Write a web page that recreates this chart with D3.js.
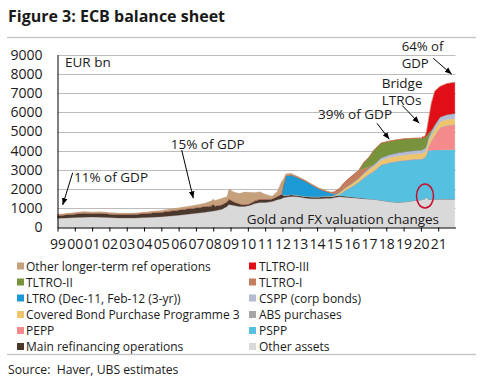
<!DOCTYPE html>
<html><head><meta charset="utf-8">
<script src="https://cdn.jsdelivr.net/npm/d3@7"></script>
<style>
body{margin:0;background:#fff}
svg{display:block}
text{font-family:"Open Sans",sans-serif;fill:#1a1a1a}
</style>
</head><body>
<svg id="c" width="480" height="385"></svg>
<script>
// ---- data (EUR bn) ----
const dates=[1999.0,1999.5,2000.0,2000.5,2001.0,2001.5,2002.0,2002.5,2003.0,2003.5,2004.0,2004.5,2005.0,2005.5,2006.0,2006.5,2007.0,2007.5,2007.9,2008.0,2008.1,2008.5,2008.8,2008.9,2009.2,2009.5,2009.8,2010.1,2010.4,2010.7,2011.0,2011.4,2011.7,2011.95,2012.05,2012.2,2012.5,2012.9,2013.3,2013.7,2014.1,2014.5,2014.8,2015.0,2015.3,2015.6,2016.0,2016.4,2016.7,2017.0,2017.3,2017.7,2018.2,2018.7,2019.2,2019.7,2020.05,2020.1,2020.17,2020.25,2020.33,2020.42,2020.6,2020.8,2021.1,2021.5,2021.96];
const otherAssets=[480,500,520,540,550,540,520,500,490,500,520,540,560,600,640,690,740,790,840,860,870,950,1100,1200,1150,1100,1100,1150,1250,1300,1300,1350,1450,1500,1550,1580,1620,1600,1530,1500,1500,1520,1520,1560,1600,1580,1550,1520,1500,1480,1470,1420,1350,1310,1350,1420,1450,1470,1490,1500,1640,1480,1460,1470,1480,1480,1470];
const mro=[160,180,200,230,200,220,200,200,200,210,220,240,250,270,290,300,300,320,300,370,260,250,250,300,200,150,100,100,150,180,180,150,180,250,150,100,100,80,100,100,100,120,100,80,60,50,40,30,20,10,5,0,0,0,0,0,0,0,0,0,0,0,0,0,0,0,0];
const otherLTRO=[50,50,60,60,60,60,60,50,50,50,60,70,80,90,100,110,130,150,250,250,270,320,270,500,500,520,650,580,420,380,250,130,250,650,300,100,80,60,50,50,50,40,20,10,10,0,0,0,0,0,0,0,0,0,0,0,0,0,0,0,0,0,0,0,0,0,0];
const ltro3y=[0,0,0,0,0,0,0,0,0,0,0,0,0,0,0,0,0,0,0,0,0,0,0,0,0,0,0,0,0,0,0,0,0,0,500,1020,1020,920,800,620,420,250,150,60,0,0,0,0,0,0,0,0,0,0,0,0,0,0,0,0,0,0,0,0,0,0,0];
const tltro1=[0,0,0,0,0,0,0,0,0,0,0,0,0,0,0,0,0,0,0,0,0,0,0,0,0,0,0,0,0,0,0,0,0,0,0,0,0,0,0,0,0,0,40,100,200,300,380,400,250,80,20,0,0,0,0,0,0,0,0,0,0,0,0,0,0,0,0];
const pspp=[0,0,0,0,0,0,0,0,0,0,0,0,0,0,0,0,0,0,0,0,0,0,0,0,0,0,0,0,0,0,0,0,0,0,0,0,0,0,0,0,0,0,0,0,60,280,520,800,1050,1280,1460,1825,2020,2140,2150,2130,2105,2110,2120,2150,2150,2520,2560,2560,2560,2570,2580];
const pepp=[0,0,0,0,0,0,0,0,0,0,0,0,0,0,0,0,0,0,0,0,0,0,0,0,0,0,0,0,0,0,0,0,0,0,0,0,0,0,0,0,0,0,0,0,0,0,0,0,0,0,0,0,0,0,0,0,0,0,0,0,30,150,450,750,1150,1250,1300];
const absp=[0,0,0,0,0,0,0,0,0,0,0,0,0,0,0,0,0,0,0,0,0,0,0,0,0,0,0,0,0,0,0,0,0,0,0,0,0,0,0,0,0,0,0,5,15,25,30,30,30,30,30,30,30,30,30,30,30,30,30,30,30,30,30,30,30,30,30];
const cbpp3=[0,0,0,0,0,0,0,0,0,0,0,0,0,0,0,0,0,0,0,0,0,0,0,0,0,0,0,0,0,0,0,0,0,0,0,0,0,0,0,0,0,0,10,40,90,120,150,170,190,210,220,230,250,250,260,260,270,270,270,270,270,275,280,285,290,295,300];
const cspp=[0,0,0,0,0,0,0,0,0,0,0,0,0,0,0,0,0,0,0,0,0,0,0,0,0,0,0,0,0,0,0,0,0,0,0,0,0,0,0,0,0,0,0,0,0,0,0,10,40,70,100,130,150,170,180,180,185,185,190,190,200,210,230,240,250,260,270];
const tltro2=[0,0,0,0,0,0,0,0,0,0,0,0,0,0,0,0,0,0,0,0,0,0,0,0,0,0,0,0,0,0,0,0,0,0,0,0,0,0,0,0,0,0,0,0,0,0,0,0,300,500,740,760,700,680,660,630,610,600,590,580,450,250,60,20,0,0,0];
const tltro3=[0,0,0,0,0,0,0,0,0,0,0,0,0,0,0,0,0,0,0,0,0,0,0,0,0,0,0,0,0,0,0,0,0,0,0,0,0,0,0,0,0,0,0,0,0,0,0,0,0,0,0,0,0,0,0,0,0,80,30,60,230,585,1380,1745,1590,1615,1610];

const yTicks=[0,1000,2000,3000,4000,5000,6000,7000,8000,9000];
const xTickYears=[1999,2000,2001,2002,2003,2004,2005,2006,2007,2008,2009,2010,2011,2012,2013,2014,2015,2016,2017,2018,2019,2020,2021];
const xTickLabels=["99","00","01","02","03","04","05","06","07","08","09","10","11","12","13","14","15","16","17","18","19","20","21"];

// stacking order bottom -> top
const layerKeys=["otherAssets","mro","pspp","pepp","abs","cbpp3","cspp","ltro3y","tltro1","tltro2","tltro3","otherLTRO"];
const layerColors={otherAssets:"#d9d9d9",mro:"#4b382c",pspp:"#55c0e0",pepp:"#f48a8c",abs:"#a6a6a6",cbpp3:"#eec46c",cspp:"#b4bbd2",ltro3y:"#1c9ad6",tltro1:"#c57d60",tltro2:"#77933c",tltro3:"#e20e17",otherLTRO:"#c4a07c"};
const legendLeft=[["otherLTRO","Other longer-term ref operations"],["tltro2","TLTRO-II"],["ltro3y","LTRO (Dec-11, Feb-12 (3-yr))"],["cbpp3","Covered Bond Purchase Programme 3"],["pepp","PEPP"],["mro","Main refinancing operations"]];
const legendRight=[["tltro3","TLTRO-III"],["tltro1","TLTRO-I"],["cspp","CSPP (corp bonds)"],["abs","ABS purchases"],["pspp","PSPP"],["otherAssets","Other assets"]];

const seriesArrays={otherAssets,mro,pspp,pepp,abs:absp,cbpp3,cspp,ltro3y,tltro1,tltro2,tltro3,otherLTRO};
const rows=dates.map((d,i)=>{const r={date:d};layerKeys.forEach(k=>r[k]=seriesArrays[k][i]);return r;});

const svg=d3.select("#c");
const x=d3.scaleLinear().domain([1999,2022]).range([57.5,455.5]);
const y=d3.scaleLinear().domain([0,9000]).range([227.5,54.7]);

// title
svg.append("text").attr("x",8).attr("y",22).attr("font-size",16).attr("font-weight","bold").text("Figure 3: ECB balance sheet");
svg.append("line").attr("x1",7).attr("x2",476).attr("y1",37.5).attr("y2",37.5).attr("stroke","#c8c8c8").attr("stroke-width",1.5);

// gridlines
svg.append("g").selectAll("line").data(yTicks.filter(v=>v>0)).join("line")
  .attr("x1",x(1999)).attr("x2",x(2022)).attr("y1",d=>Math.round(y(d))+0.5).attr("y2",d=>Math.round(y(d))+0.5)
  .attr("stroke","#bcbcbc").attr("stroke-width",1);

// stacked areas
const stack=d3.stack().keys(layerKeys)(rows);
const area=d3.area().x(d=>x(d.data.date)).y0(d=>y(d[0])).y1(d=>y(d[1]));
svg.append("g").selectAll("path").data(stack).join("path")
  .attr("d",area).attr("fill",d=>layerColors[d.key])
  .attr("stroke",d=>layerColors[d.key]).attr("stroke-width",0.3);

// axes
const xAxis=svg.append("g").attr("transform",`translate(0,${y(0)})`)
  .call(d3.axisBottom(x).tickValues(xTickYears).tickSize(4).tickSizeOuter(0).tickPadding(8)
    .tickFormat((d,i)=>xTickLabels[i]));
xAxis.selectAll("text").attr("font-size",14).attr("font-family","Open Sans").attr("fill","#1a1a1a");
xAxis.selectAll("line").attr("stroke","#000");
xAxis.select(".domain").attr("stroke","#000");

const yAxis=svg.append("g").attr("transform",`translate(${x(1999)},0)`)
  .call(d3.axisLeft(y).tickValues(yTicks).tickSize(0).tickSizeOuter(0).tickPadding(15).tickFormat(d3.format("d")));
yAxis.selectAll("text").attr("font-size",14).attr("font-family","Open Sans").attr("fill","#1a1a1a");
yAxis.select(".domain").attr("stroke","#000");

// annotations
svg.append("defs").append("marker").attr("id","ah").attr("viewBox","0 0 10 10").attr("refX",10).attr("refY",5)
  .attr("markerWidth",7).attr("markerHeight",7).attr("orient","auto")
  .append("path").attr("d","M0,1 L10,5 L0,9 z").attr("fill","#000");
const anno=(lines,xx,yy,lh,fs)=>{
  const t=svg.append("text").attr("x",xx).attr("y",yy).attr("font-size",fs||13.5);
  lines.forEach((s,i)=>t.append("tspan").attr("x",xx).attr("dy",i?lh:0).text(s));
};
const arrow=(x1,y1,x2,y2)=>svg.append("line").attr("x1",x1).attr("y1",y1).attr("x2",x2).attr("y2",y2)
  .attr("stroke","#000").attr("stroke-width",1).attr("marker-end","url(#ah)");
anno(["EUR bn"],65,67);
anno(["11% of GDP"],74,182); arrow(72.7,172.7,62.7,205);
anno(["15% of GDP"],170.7,149); arrow(181.7,150,193.3,198.3);
anno(["39% of GDP"],318,119); arrow(377,123.3,389.3,139.3);
anno(["Bridge","LTROs"],381.7,87.5,17.3); arrow(402.3,105.5,419.3,123.3);
anno(["64% of","GDP"],401.7,50.5,17,13.2); arrow(433.3,58.3,451.7,74.3);
anno(["Gold and FX valuation changes"],246.7,224);
svg.append("ellipse").attr("cx",425).attr("cy",196).attr("rx",8.5).attr("ry",12)
  .attr("fill","none").attr("stroke","#c8102e").attr("stroke-width",1.5);

// legend
const rowY=[266,282,298,314.5,330.5,346.5];
const drawLegend=(items,sx,tx)=>items.forEach(([k,label],i)=>{
  svg.append("rect").attr("x",sx).attr("y",rowY[i]-3.5).attr("width",7).attr("height",7).attr("fill",layerColors[k]);
  svg.append("text").attr("x",tx).attr("y",rowY[i]+4.5).attr("font-size",12).text(label);
});
drawLegend(legendLeft,17,26);
drawLegend(legendRight,249,259);

svg.append("line").attr("x1",7).attr("x2",476).attr("y1",354.5).attr("y2",354.5).attr("stroke","#c8c8c8").attr("stroke-width",1.5);
svg.append("text").attr("x",8).attr("y",374).attr("font-size",12.2).attr("xml:space","preserve").text("Source:  Haver, UBS estimates");
</script>
</body></html>
